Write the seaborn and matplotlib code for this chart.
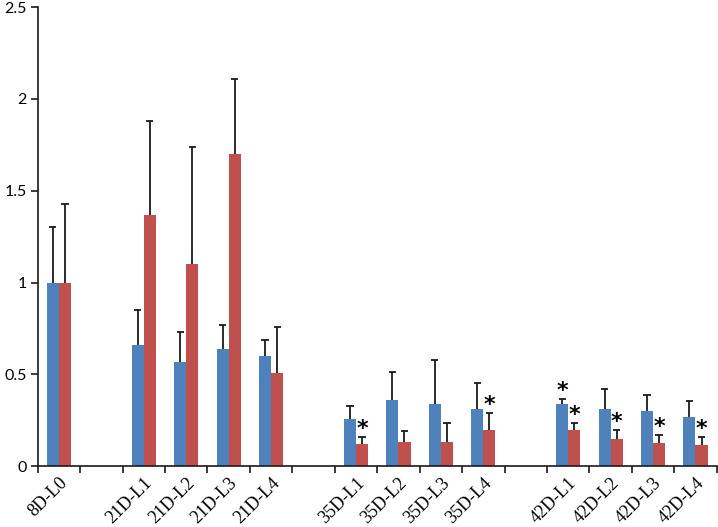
# Bar chart with upper error bars and significance asterisks

import numpy as np
import pandas as pd
import matplotlib.pyplot as plt
import seaborn as sns

# Categories (blank slots separate the time groups)
categories = ['8D-L0', ' ', '21D-L1', '21D-L2', '21D-L3', '21D-L4', '  ',
              '35D-L1', '35D-L2', '35D-L3', '35D-L4', '   ',
              '42D-L1', '42D-L2', '42D-L3', '42D-L4']
labels = ['8D-L0', '21D-L1', '21D-L2', '21D-L3', '21D-L4',
          '35D-L1', '35D-L2', '35D-L3', '35D-L4',
          '42D-L1', '42D-L2', '42D-L3', '42D-L4']

# Series values
blue_values = [1.00, 0.66, 0.57, 0.64, 0.60, 0.26, 0.36, 0.34, 0.31, 0.34, 0.31, 0.30, 0.27]
blue_err = [0.30, 0.19, 0.16, 0.13, 0.09, 0.07, 0.155, 0.24, 0.145, 0.026, 0.11, 0.087, 0.087]
red_values = [1.00, 1.37, 1.10, 1.70, 0.51, 0.12, 0.13, 0.13, 0.195, 0.20, 0.147, 0.129, 0.118]
red_err = [0.43, 0.51, 0.64, 0.41, 0.25, 0.037, 0.064, 0.104, 0.093, 0.035, 0.049, 0.043, 0.04]

# Which bars carry a significance star
blue_star = ['42D-L1']
red_star = ['35D-L1', '35D-L4', '42D-L1', '42D-L2', '42D-L3', '42D-L4']

series = ['Series1', 'Series2']
colors = ['#4F81BD', '#C0504D']

df = pd.DataFrame({
    'Label': labels * 2,
    'Value': blue_values + red_values,
    'Err': blue_err + red_err,
    'Series': np.repeat(series, len(labels)),
})
stars = {'Series1': blue_star, 'Series2': red_star}

fig = plt.figure(figsize=(7.18, 5.27), dpi=100)
ax = fig.add_axes([0.0525, 0.1152, 0.9457, 0.8715])

sns.barplot(data=df, x='Label', y='Value', hue='Series', order=categories,
            hue_order=series, palette=colors, width=0.57, saturation=1,
            legend=False, ax=ax, errorbar=None)

# upper error bars + stars from the drawn bars
cap = 0.085
for s, cont in zip(series, ax.containers):
    sub = df[df['Series'] == s]
    for bar in cont:
        xc = bar.get_x() + bar.get_width() / 2
        h = bar.get_height()
        if np.isnan(h):
            continue
        cat = categories[int(round(xc))]
        row = sub[sub['Label'] == cat].iloc[0]
        top = h + row['Err']
        ax.vlines(xc, h, top, color='#1a1a1a', linewidth=1.3, zorder=3)
        ax.hlines(top, xc - cap, xc + cap, color='#1a1a1a', linewidth=1.3, zorder=3)
        if cat in stars[s]:
            ax.text(xc, top - 0.01, '*', ha='center', va='bottom',
                    fontsize=16, fontweight='bold', family='DejaVu Sans')

ax.set_ylim(0, 2.5)
ax.set_xlim(-0.5, len(categories) - 0.5)
ax.set_yticks([0, 0.5, 1, 1.5, 2, 2.5])
ax.set_yticklabels(['0', '0.5', '1', '1.5', '2', '2.5'], family='Lato', fontsize=11.5)
ax.set_xticks(range(len(categories)))
ax.set_xticklabels([c.strip() for c in categories], rotation=45, ha='right',
                   rotation_mode='anchor', family='Liberation Serif', fontsize=13)
ax.set_xticks(np.arange(-0.5, len(categories)), minor=True)
ax.tick_params(axis='x', which='major', length=0, pad=6)
ax.tick_params(axis='x', which='minor', length=5, width=1.2, color='#1a1a1a')
ax.tick_params(axis='y', length=5, width=1.2, color='#1a1a1a', pad=3)
ax.set_xlabel('')
ax.set_ylabel('')
for side in ['top', 'right']:
    ax.spines[side].set_visible(False)
for side in ['left', 'bottom']:
    ax.spines[side].set_linewidth(1.2)
    ax.spines[side].set_color('#1a1a1a')

fig.savefig('out.png', dpi=100)
